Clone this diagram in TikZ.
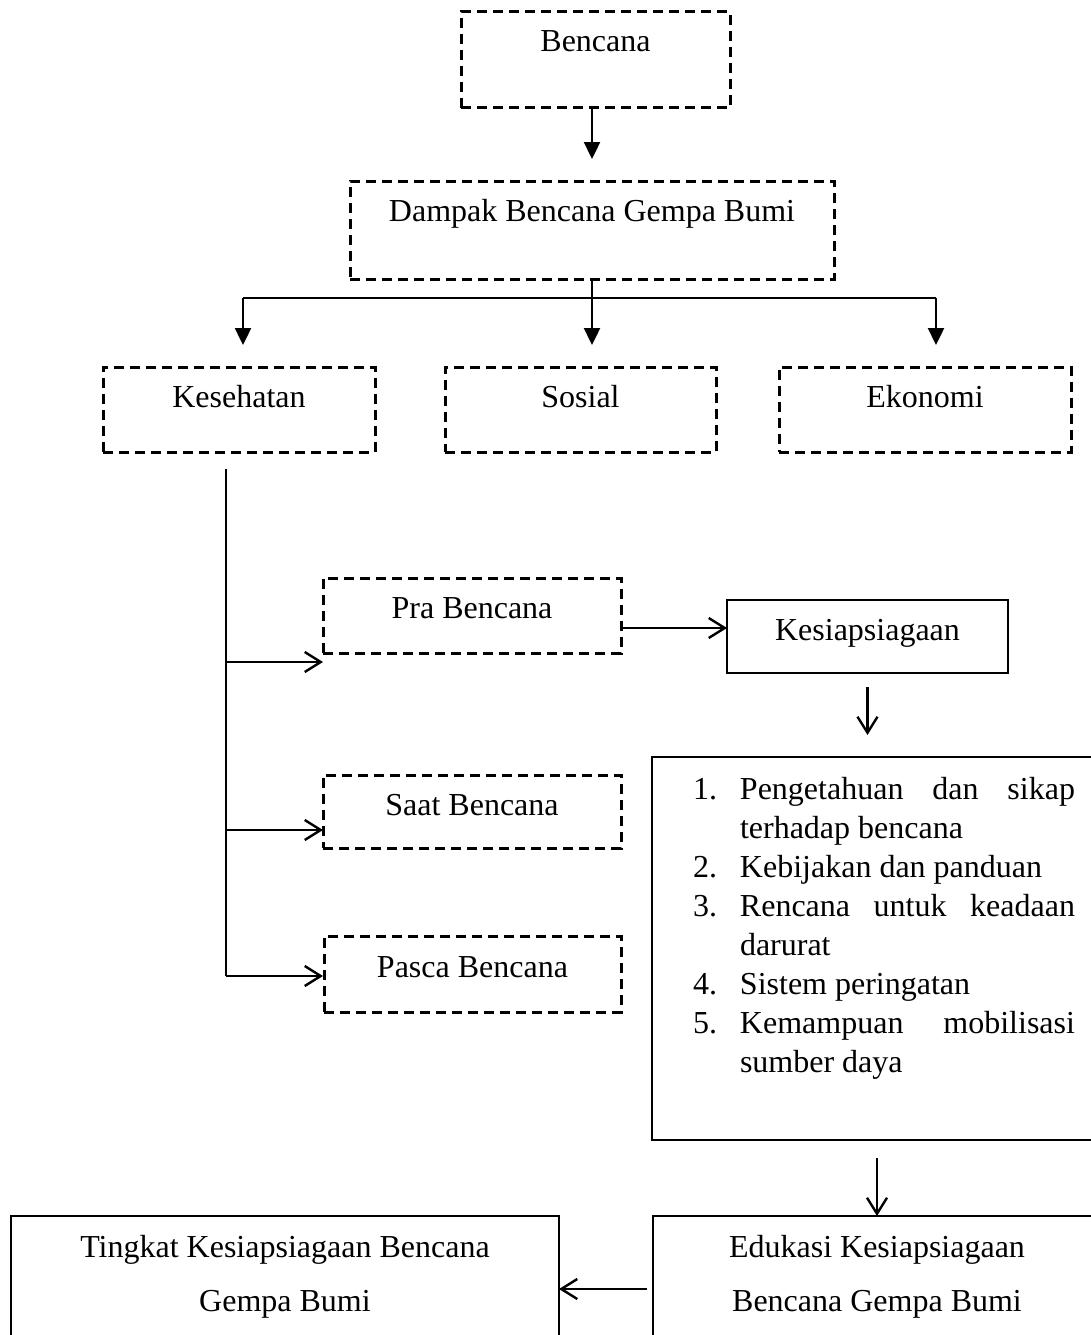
\documentclass[tikz,border=0pt]{standalone}
\usepackage{fontspec}
\setmainfont{Liberation Serif}
\usetikzlibrary{arrows.meta}
\begin{document}
\begin{tikzpicture}[x=1pt,y=-1pt,
  every node/.style={font=\fontsize{32}{39}\selectfont, inner sep=0pt, outer sep=0pt},
  dbox/.style={draw, line width=3pt, dash pattern=on 10pt off 6pt, anchor=north, inner ysep=0pt},
  sbox/.style={draw, line width=2.4pt, anchor=north, inner ysep=0pt},
  tri/.style={line width=2.4pt, -{Triangle[width=16pt,length=17pt]}},
  barb/.style={line width=2.4pt, -{Straight Barb[width=20pt,length=16pt,line width=2.4pt]}},
  thin/.style={line width=1.6pt}]
\clip (0,0) rectangle (1091,1335);
\fill[white] (0,0) rectangle (1091,1335);

% top boxes
\node[dbox, minimum width=269pt, text height=40pt, text depth=56pt] (bencana) at (595.5,12) {Bencana};
\node[dbox, minimum width=484pt, text height=40pt, text depth=58pt] (dampak) at (592,181) {Dampak Bencana Gempa Bumi};
\node[dbox, minimum width=272pt, text height=40pt, text depth=45pt] (kes) at (239,367) {Kesehatan};
\node[dbox, minimum width=271pt, text height=40pt, text depth=45pt] (sosial) at (580.5,367) {Sosial};
\node[dbox, minimum width=292pt, text height=40pt, text depth=45pt] (eko) at (925,367) {Ekonomi};

% phase boxes
\node[dbox, minimum width=298pt, text height=40pt, text depth=35pt] (pra) at (472,578) {Pra Bencana};
\node[dbox, minimum width=298pt, text height=40pt, text depth=33pt] (saat) at (472,775) {Saat Bencana};
\node[dbox, minimum width=297pt, text height=41pt, text depth=35pt] (pasca) at (472.5,936) {Pasca Bencana};

\node[sbox, minimum width=281pt, text height=40pt, text depth=33pt] (kesiap) at (867.5,600) {Kesiapsiagaan};

% list box
\node[draw, line width=2.4pt, anchor=north west, minimum width=450pt, minimum height=383pt] (list) at (652,757) {};
\node[anchor=base west] (listtext) at (693,799) {\parbox[t]{400pt}{\fontsize{32}{39.1}\selectfont\parindent=0pt
\makebox[47pt][l]{1.}\makebox[335pt][s]{Pengetahuan dan sikap}\\
\hspace*{47pt}terhadap bencana\\
\makebox[47pt][l]{2.}Kebijakan dan panduan\\
\makebox[47pt][l]{3.}\makebox[335pt][s]{Rencana untuk keadaan}\\
\hspace*{47pt}darurat\\
\makebox[47pt][l]{4.}Sistem peringatan\\
\makebox[47pt][l]{5.}\makebox[335pt][s]{Kemampuan mobilisasi}\\
\hspace*{47pt}sumber daya}};

% bottom boxes
\node[draw, line width=2.4pt, anchor=north west, minimum width=448pt, minimum height=140pt] (edukasi) at (653,1216) {};
\node[anchor=base] (edu1) at (877,1257) {Edukasi Kesiapsiagaan};
\node[anchor=base] (edu2) at (877,1311) {Bencana Gempa Bumi};
\node[draw, line width=2.4pt, anchor=north west, minimum width=548pt, minimum height=140pt] (tingkat) at (11,1216) {};
\node[anchor=base] (ting1) at (285,1257) {Tingkat Kesiapsiagaan Bencana};
\node[anchor=base] (ting2) at (285,1311) {Gempa Bumi};

% connectors top
\draw[tri, shorten >=22pt] (bencana.south -| dampak.north) -- (dampak.north);
\coordinate (hubL) at (243,298);
\coordinate (hubR) at (936,298);
\draw[line width=2.4pt] (hubL) -- (hubR);
\draw[tri, shorten >=22pt] (dampak.south) -- (dampak.south |- sosial.north);
\draw[tri, shorten >=22pt] (hubL) -- (hubL |- kes.north);
\draw[tri, shorten >=22pt] (hubR) -- (hubR |- eko.north);

% spine
\coordinate (spineTop) at (226,469);
\coordinate (praIn) at (323,662);
\coordinate (saatIn) at (323,830);
\coordinate (pascaIn) at (323,976);
\draw[thin] (spineTop) -- (spineTop |- pascaIn);
\draw[barb] (spineTop |- praIn) -- (praIn);
\draw[barb] (spineTop |- saatIn) -- (saatIn);
\draw[barb] (spineTop |- pascaIn) -- (pascaIn);

% right side
\coordinate (pk) at (0,628);
\draw[barb] (pra.east |- pk) -- (kesiap.west |- pk);
\draw[barb, shorten <=14pt, shorten >=22pt] (kesiap.south) -- (kesiap.south |- list.north);
\draw[barb, shorten <=18pt] (list.south) -- (edukasi.north);
\coordinate (et) at (0,1289);
\draw[barb, shorten <=6pt] (edukasi.west |- et) -- (tingkat.east |- et);
\end{tikzpicture}
\end{document}
